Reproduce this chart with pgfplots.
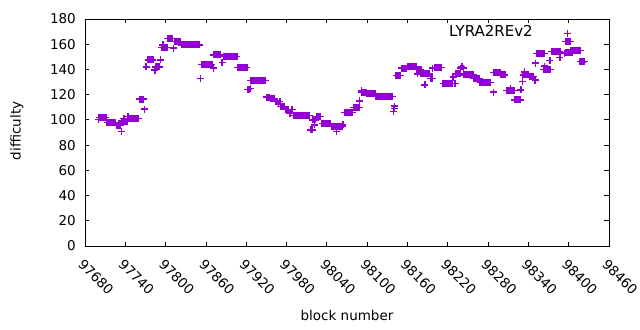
\documentclass[border=0pt]{standalone}
\usepackage{pgfplots}
\pgfplotsset{compat=1.18}
\usepackage{fontspec}
\setmainfont{DejaVu Sans}
\definecolor{gpviolet}{RGB}{148,0,211}
\newcommand{\gpfont}{\fontsize{13.5bp}{16bp}\selectfont}
\begin{document}
\begin{tikzpicture}
\useasboundingbox (-85bp,-84bp) rectangle (555bp,246bp);
\begin{axis}[
  at={(0,0)}, anchor=south west,
  width=524bp, height=227bp, scale only axis,
  xmin=97680, xmax=98460, ymin=0, ymax=180,
  xtick={97680,97740,97800,97860,97920,97980,98040,98100,98160,98220,98280,98340,98400,98460},
  ytick={0,20,40,60,80,100,120,140,160,180},
  scaled x ticks=false, scaled y ticks=false,
  minor tick num=0,
  tick align=inside,
  major tick length=4.5bp,
  every tick/.style={black, line width=0.8bp},
  axis line style={black, line width=0.8bp},
  /pgf/number format/.cd, fixed, 1000 sep={}, assume math mode=true,
  /pgfplots/.cd,
  ticklabel style={font=\gpfont},
  xticklabel style={xshift=-0.5bp, yshift=-10.5bp, rotate=-45, anchor=north west, inner sep=1bp},
  yticklabel style={anchor=east, inner sep=1bp, xshift=-8bp},
  xlabel={block number},
  ylabel={difficulty},
  label style={font=\gpfont},
  xlabel style={at={(axis description cs:0.5,-0.304)}, anchor=center},
  ylabel style={at={(axis description cs:-0.13,0.507)}, anchor=center},
  legend plot pos=right,
  legend image code/.code={\path[draw=none] (0bp,0bp) -- (47bp,0bp); \draw[#1] plot[only marks] coordinates {(33bp,-1.5bp)};},
  legend style={draw=none, fill=none, font=\fontsize{15bp}{18bp}\selectfont, at={(axis description cs:0.954,0.99)}, anchor=north east},
]
\addplot[only marks, mark=+, mark size=3.5bp, color=gpviolet, mark options={line width=1.4bp}] coordinates {
(97700,100.5)
(97701,102)(97703,102)(97705,102)(97707,102)(97709,102)(97711,102)
(97713,98)(97715,98)(97717,98)(97719,98)(97721,98)(97723,98)(97725,98)
(97727,95.5)(97729,95.5)(97731,95.5)(97733,95.5)
(97734,91)
(97735,99)(97737,99)(97739,99)(97741,99)(97743,99)(97738,101)
(97744,102.5)
(97745,101)(97747,101)(97749,101)(97751,101)(97753,101)(97755,101)(97757,101)(97759,101)
(97761,116.5)(97763,116.5)(97765,116.5)(97767,116.5)
(97769,108.5)
(97771,142)
(97774,147.5)(97776,147.5)(97778,147.5)(97780,147.5)(97781,147.5)
(97784,139.5)
(97785,142)(97787,142)(97789,142)(97791,142)
(97792,147.5)
(97794,157.5)(97796,157.5)(97798,157.5)(97800,157.5)(97802,157.5)(97796,159.5)
(97803,164.5)(97805,164.5)(97807,164.5)(97809,164.5)(97810,164.5)
(97812,157)
(97814,162)(97816,162)(97818,162)(97820,162)(97822,162)
(97824,159.5)(97826,159.5)(97828,159.5)(97830,159.5)(97832,159.5)(97834,159.5)(97836,159.5)
(97838,159.5)(97840,159.5)(97842,159.5)(97844,159.5)(97846,159.5)(97848,159.5)(97850,159.5)
(97852,133)
(97853,144)(97855,144)(97857,144)(97859,144)(97861,144)(97863,144)(97865,144)(97867,144)(97869,144)
(97871,141)
(97872,151.5)(97874,151.5)(97876,151.5)(97878,151.5)(97880,151.5)(97882,151.5)
(97884,145.5)
(97886,150.3)(97888,150.3)(97890,150.3)(97892,150.3)(97894,150.3)(97896,150.3)(97898,150.3)
(97900,150.3)(97902,150.3)(97904,150.3)(97906,150.3)
(97907,141.7)(97909,141.7)(97911,141.7)(97913,141.7)(97915,141.7)(97917,141.7)(97919,141.7)(97921,141.7)
(97922,124)(97924,124)
(97926,125)
(97927,131.4)(97929,131.4)(97931,131.4)(97933,131.4)(97935,131.4)(97937,131.4)
(97939,131.4)(97941,131.4)(97943,131.4)(97945,131.4)(97947,131.4)(97949,131.4)
(97950,118)(97952,118)(97954,118)
(97956,117)(97958,117)(97960,117)(97962,117)
(97964,114.4)(97966,114.4)(97970,114.4)(97968,113)
(97971,110.5)(97973,110.5)(97975,110.5)(97977,110.5)
(97979,108)(97981,108)(97983,108)(97987,108)(97989,108)(97985,105)
(97990,103.6)(97992,103.6)(97994,103.6)(97996,103.6)(97998,103.6)(98000,103.6)(98002,103.6)
(98004,103.6)(98006,103.6)(98008,103.6)(98010,103.6)(98012,103.6)(98014,103.6)
(98016,92)(98018,92)
(98022,96)
(98019,100)(98021,100)(98023,100)
(98025,102.5)(98027,102.5)(98029,102.5)(98031,102.5)
(98033,97.3)(98035,97.3)(98037,97.3)(98039,97.3)(98041,97.3)(98043,97.3)(98045,97.3)
(98047,94.6)(98049,94.6)(98051,94.6)(98053,94.6)(98055,94.6)(98057,94.6)(98059,94.6)(98061,94.6)(98063,94.6)
(98054,90.6)(98064,96)
(98066,106)(98068,106)(98070,106)(98072,106)(98074,106)(98076,106)(98078,106)
(98080,109.7)(98082,109.7)(98084,109.7)(98086,109.7)(98088,109.7)
(98089,115)
(98092,121.5)(98094,121.5)(98096,121.5)(98098,121.5)(98092,123)
(98100,121)(98102,121)(98104,121)(98106,121)(98108,121)(98110,121)(98112,121)
(98113,118.4)(98115,118.4)(98117,118.4)(98119,118.4)(98121,118.4)(98123,118.4)(98125,118.4)
(98127,118.4)(98129,118.4)(98131,118.4)(98133,118.4)(98135,118.4)(98137,118.4)
(98139,106.5)(98140,109)(98141,111)
(98143,135)(98145,135)(98147,135)(98149,135)
(98151,141)(98153,141)(98155,141)(98157,141)(98159,141)
(98161,142.5)(98163,142.5)(98165,142.5)(98167,142.5)(98169,142.5)(98171,142.5)(98173,142.5)
(98174,140)(98176,140)(98178,140)(98180,140)
(98175,136.4)
(98179,136.4)(98181,136.4)(98183,136.4)(98185,136.4)
(98186,127.7)
(98187,136.4)(98189,136.4)(98191,136.4)(98193,136.4)
(98195,133)(98197,133)
(98197,141)
(98201,141.7)(98203,141.7)(98205,141.7)(98207,141.7)(98209,141.7)(98211,141.7)
(98213,129)(98215,129)(98217,129)(98219,129)(98221,129)(98223,129)(98225,129)(98227,129)
(98228,134)(98231,129)
(98232,136.4)(98234,136.4)(98236,136.4)(98238,136.4)
(98239,141)(98243,141)(98241,142.2)
(98244,135.6)(98246,135.6)(98248,135.6)(98250,135.6)(98252,135.6)(98254,135.6)(98256,135.6)(98258,135.6)
(98259,133)(98261,133)(98263,133)(98265,133)(98267,133)
(98268,129.8)(98270,129.8)(98272,129.8)(98274,129.8)(98276,129.8)(98278,129.8)(98280,129.8)(98282,129.8)(98284,129.8)
(98288,122)
(98288,137.5)(98290,137.5)(98292,137.5)(98294,137.5)(98296,137.5)(98298,137.5)
(98299,135.6)(98301,135.6)(98303,135.6)(98305,135.6)
(98307,123.2)(98309,123.2)(98311,123.2)(98313,123.2)(98315,123.2)(98317,123.2)(98319,123.2)(98313,124.5)
(98320,115.8)(98322,115.8)(98324,115.8)(98326,115.8)(98328,115.8)
(98329,123.7)(98331,130.3)
(98332,135.6)(98334,135.6)(98336,135.6)(98338,135.6)(98340,135.6)(98334,138)
(98342,134.3)(98344,134.3)(98346,134.3)(98348,134.3)
(98350,131.6)
(98351,145)
(98352,152.8)(98354,152.8)(98356,152.8)(98358,152.8)(98360,152.8)(98362,152.8)(98364,152.8)
(98364,142.7)
(98363,140)(98365,140)(98367,140)(98369,140)(98371,140)(98373,140)
(98372,147)
(98375,154)(98377,154)(98379,154)(98381,154)(98383,154)(98385,154)(98387,154)
(98387,149.3)
(98394,153)
(98396,162)(98398,162)(98400,162)(98402,162)
(98396,153.6)(98398,153.6)(98400,153.6)(98402,153.6)(98404,153.6)(98406,153.6)
(98403,155)(98405,155)(98407,155)(98409,155)(98411,155)(98413,155)(98415,155)(98417,155)
(98417,146.2)(98419,146.2)(98421,146.2)(98423,146.2)(98420,146)
};
\addlegendentry{LYRA2REv2}
\end{axis}
\end{tikzpicture}
\end{document}
